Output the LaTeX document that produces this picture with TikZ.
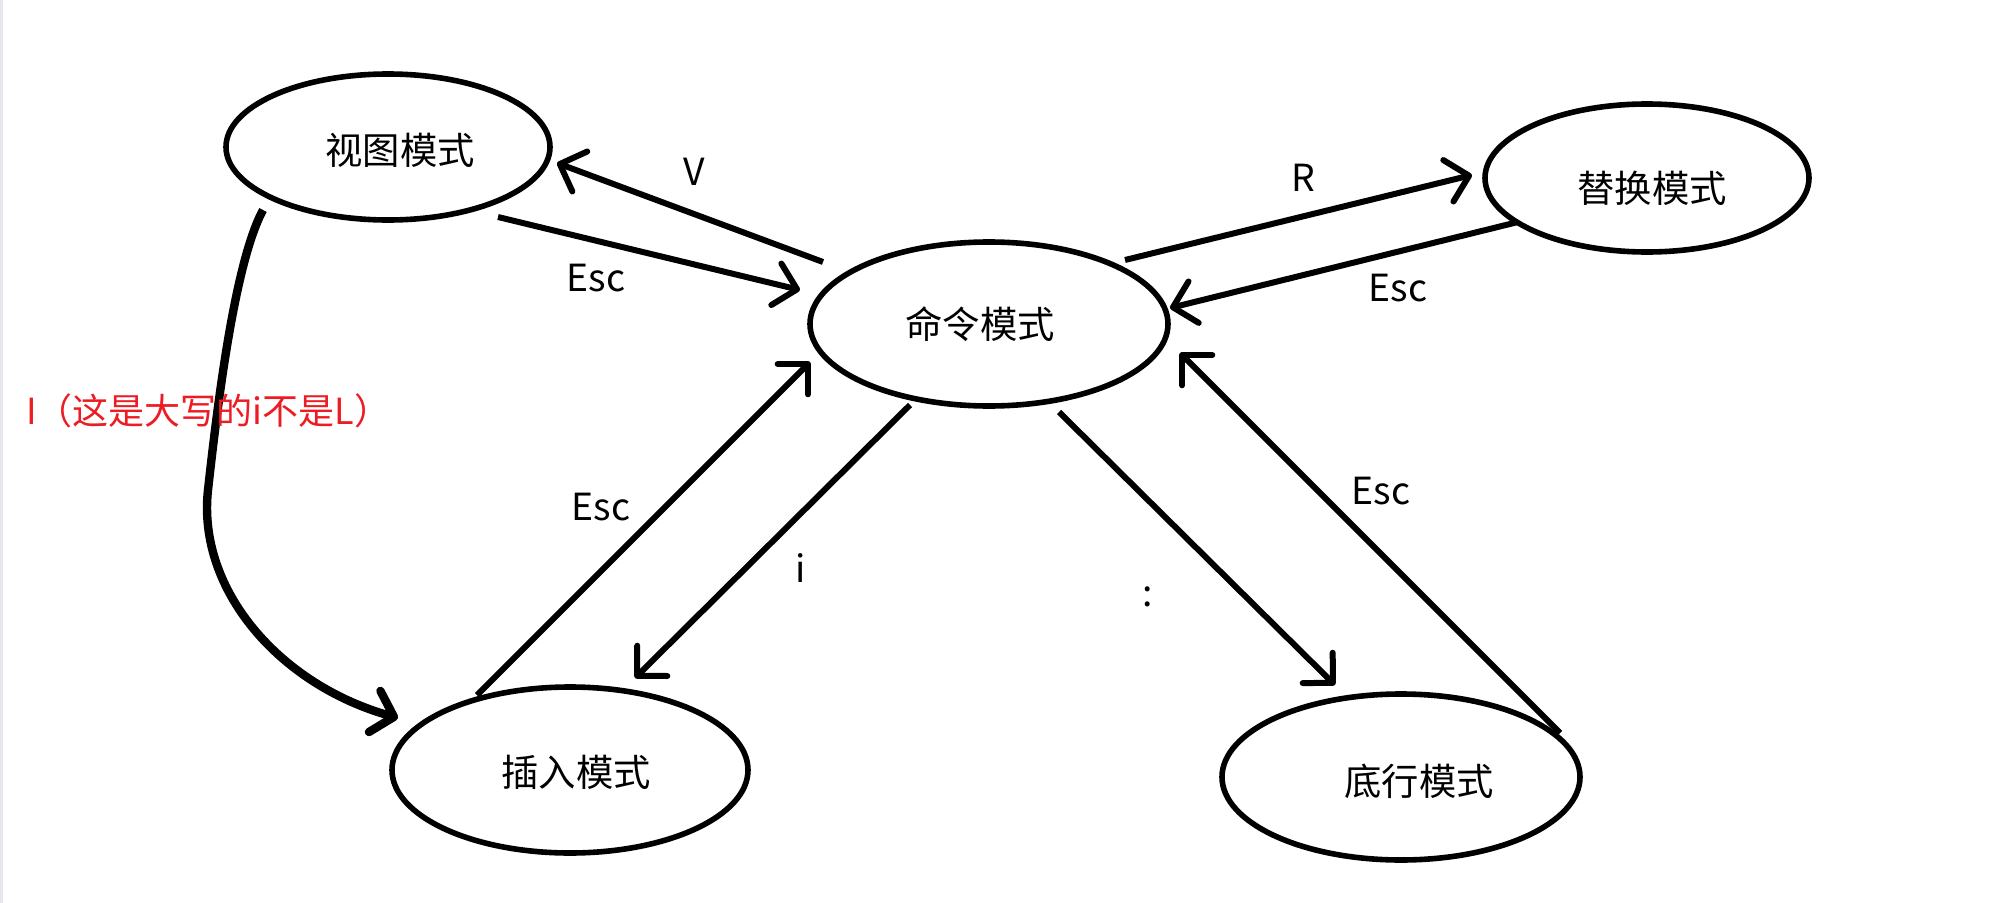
\documentclass[tikz,border=0pt]{standalone}
\usepackage{fontspec}
\setmainfont{Noto Sans CJK SC}
\usetikzlibrary{arrows.meta,shapes.geometric}
\definecolor{paintred}{RGB}{237,28,36}
\definecolor{stripgray}{RGB}{228,231,236}
% shift text inside a node: #1 = twice the horizontal shift, #2 = vertical raise
\newcommand\mtxt[3]{\hspace*{#1}\raisebox{#2}[\height][\depth]{#3}}
\begin{document}
\begin{tikzpicture}[x=0.75pt,y=-0.75pt,
  mode/.style={draw, ellipse, line width=4.2pt, inner sep=0pt, font=\fontsize{28pt}{34pt}\selectfont},
  conn/.style={line width=4.5pt, -{Straight Barb[length=16pt,width=32pt,round]}},
  bigconn/.style={line width=6.3pt, -{Straight Barb[length=15pt,width=32pt,round]}},
  lbl/.style={inner sep=0pt, font=\fontsize{28pt}{34pt}\selectfont},
  redlbl/.style={inner sep=0pt, text=paintred, font=\fontsize{27pt}{32pt}\selectfont}
]
\useasboundingbox (0,0) rectangle (2007,903);
\fill[white] (0,0) rectangle (2007,903);
\fill[stripgray] (0,0) rectangle (3,903);

% mode ellipses
\node[mode, minimum width=243pt, minimum height=109.5pt] (view) at (388,147) {\mtxt{18pt}{-2.25pt}{视图模式}};
\node[mode, minimum width=268.5pt, minimum height=123pt] (cmd) at (989,324) {\mtxt{-13.5pt}{0pt}{命令模式}};
\node[mode, minimum width=243pt, minimum height=111pt] (rep) at (1647,178) {\mtxt{7.5pt}{-7.5pt}{替换模式}};
\node[mode, minimum width=267pt, minimum height=124.5pt] (ins) at (570,770) {\mtxt{9pt}{-1.5pt}{插入模式}};
\node[mode, minimum width=268.5pt, minimum height=124.5pt] (bot) at (1401,777) {\mtxt{27pt}{-3pt}{底行模式}};

% connectors
\draw[conn] ([shift={(-166,-62)}]cmd.center) -- ([shift={(169,16)}]view.center);
\draw[conn] ([shift={(110,70)}]view.center) -- ([shift={(-189,-34)}]cmd.center);
\draw[conn] ([shift={(136,-64)}]cmd.center) -- ([shift={(-175,-3)}]rep.center);
\draw[conn] ([shift={(-129,44)}]rep.center) -- ([shift={(181,-16)}]cmd.center);
\draw[conn] ([shift={(159,-44)}]bot.center) -- ([shift={(191,29)}]cmd.center);
\draw[conn] ([shift={(70,88)}]cmd.center) -- ([shift={(-66,-92)}]bot.center);
\draw[conn] ([shift={(-93,-75)}]ins.center) -- ([shift={(-179,38)}]cmd.center);
\draw[conn] ([shift={(-79,81)}]cmd.center) -- ([shift={(65,-92)}]ins.center);
\coordinate (bend) at (208,490);
\draw[bigconn] ([shift={(-125,63)}]view.center) .. controls (235,262) and (218,400) .. (bend)
  .. controls (197,590) and (280,685) .. ([shift={(-172,-52)}]ins.center);

% labels
\node[lbl] (lV) at (694,172) {V};
\node[lbl] (lEscA) at (596,278) {Esc};
\node[lbl] (lR) at (1303,178) {R};
\node[lbl] (lEscB) at (1398,288) {Esc};
\node[lbl] (lEscC) at (1381,491) {Esc};
\node[lbl] (lcolon) at (1148,597) {:};
\node[lbl] (lEscD) at (601,507) {Esc};
\node[lbl] (li) at (801,568) {i};
\node[redlbl, anchor=west] (lI) at (26,411) {I（这是大写的i不是L）};
\end{tikzpicture}
\end{document}
